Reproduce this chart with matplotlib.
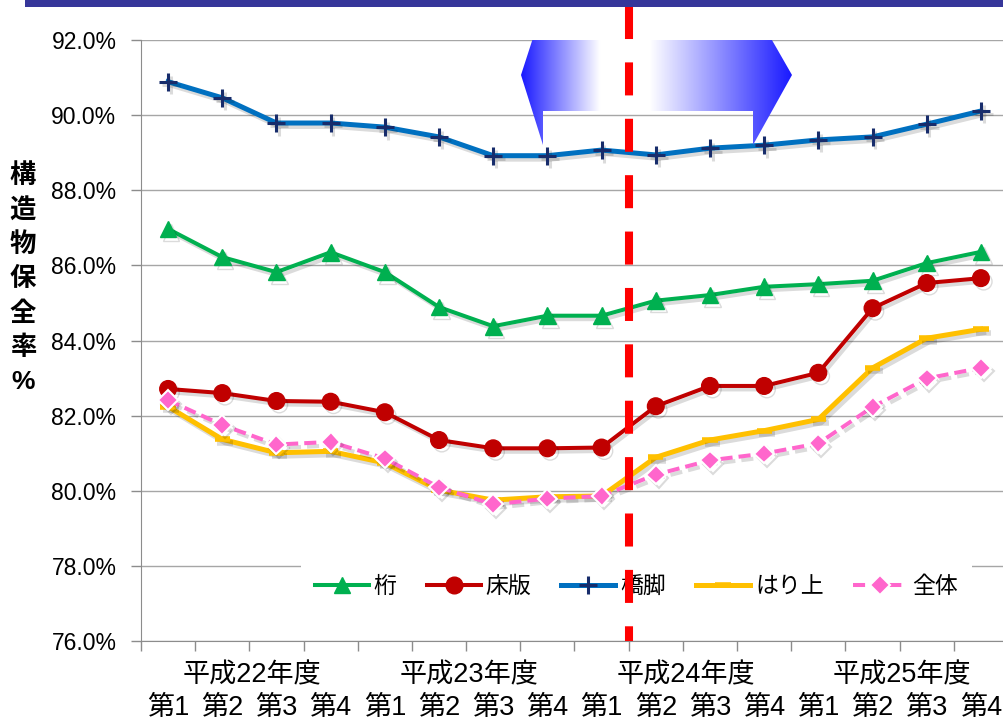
import numpy as np
import matplotlib.pyplot as plt
import matplotlib.patheffects as pe
import matplotlib.transforms as mtransforms
from matplotlib.patches import Polygon, Rectangle

plt.rcParams['font.family'] = ['Liberation Sans', 'Noto Sans CJK JP', 'DejaVu Sans']

quarters = ['第1', '第2', '第3', '第4'] * 4
years = ['平成22年度', '平成23年度', '平成24年度', '平成25年度']
ylabel = '構造物保全率%'

# 保全率 (%) per quarter
keta = [86.97, 86.22, 85.82, 86.35, 85.82, 84.89, 84.38, 84.66,
        84.66, 85.06, 85.21, 85.43, 85.50, 85.59, 86.06, 86.36]
shoban = [82.71, 82.60, 82.39, 82.37, 82.09, 81.35, 81.13, 81.13,
          81.15, 82.25, 82.79, 82.79, 83.14, 84.86, 85.53, 85.66]
kyokyaku = [90.89, 90.46, 89.79, 89.79, 89.68, 89.42, 88.92, 88.92,
            89.07, 88.94, 89.12, 89.20, 89.34, 89.42, 89.76, 90.11]
hariue = [82.24, 81.37, 81.01, 81.05, 80.74, 80.02, 79.75, 79.84,
          79.86, 80.89, 81.35, 81.60, 81.90, 83.27, 84.06, 84.30]
zentai = [82.41, 81.75, 81.23, 81.30, 80.86, 80.09, 79.64, 79.79,
          79.86, 80.43, 80.81, 80.99, 81.26, 82.23, 82.99, 83.27]

W, H = 1004, 725
fig = plt.figure(figsize=(W / 100, H / 100), dpi=100)
ax = fig.add_axes([141 / W, 1 - 641 / H, 867 / W, 601 / H])

x = np.arange(len(quarters))
shadow = [pe.SimpleLineShadow(offset=(2, -2.5), shadow_color='k', alpha=0.14), pe.Normal()]

ax.plot(x, keta, color='#00B050', lw=2.9, marker='^', ms=12, label='桁', path_effects=shadow)
ax.plot(x, shoban, color='#C00000', lw=2.9, marker='o', ms=12, label='床版', path_effects=shadow)
ax.plot(x, kyokyaku, color='#0070C0', lw=3.6, marker='+', ms=13, mew=2.2, mec='#172C6B',
        label='橋脚', path_effects=shadow)
ax.plot(x, hariue, color='#FFC000', lw=3.6, marker='_', ms=11, mew=4, label='はり上',
        path_effects=shadow)
ax.plot(x, zentai, color='#FF66CC', lw=2.9, dashes=(3, 1.5), marker='D', ms=10,
        mec='white', mew=1.5, label='全体', path_effects=shadow)

# 区切り線 (平成24年度 第1/第2 の間)
ax.plot([8.5, 8.5], [1.0566, 0], transform=ax.get_xaxis_transform(), color='#FF0000',
        lw=5.8, dashes=(4.1, 2.9), solid_capstyle='butt', dash_capstyle='butt',
        clip_on=False, zorder=10)

# 両矢印 (グラデーション)
px = mtransforms.Affine2D().scale(1 / W, -1 / H).translate(0, 1) + fig.transFigure
arrow_pts = [(521, 75), (543, 7), (543, 40), (753, 40), (753, 7), (792, 75),
             (753, 145), (753, 111), (543, 111), (543, 145)]
arrow = Polygon(arrow_pts, closed=True, facecolor='none', edgecolor='none',
                transform=px, clip_on=False)
ax.add_patch(arrow)
gx = np.linspace(521, 792, 300)
blue = np.array([0.1, 0.1, 1.0])
white = np.array([1.0, 1.0, 1.0])
stops = [521, 600, 650, 792]
grad = np.stack([np.interp(gx, stops, [blue[c], white[c], white[c], blue[c]]) for c in range(3)],
                axis=-1)[None, :, :]
im = ax.imshow(grad, extent=(521, 792, 145, 7), transform=px, aspect='auto',
               interpolation='bilinear', zorder=9)
im.set_clip_path(arrow)
im.set_clip_box(None)

ax.set_xlim(-0.5, len(quarters) - 0.5)
ax.set_ylim(76, 92)
ax.set_yticks(np.arange(76, 92.1, 2))
ax.set_yticklabels([f'{v:.1f}%' for v in np.arange(76, 92.1, 2)], fontsize=16.5)
ax.set_xticks(np.arange(-0.5, len(quarters), 1))
ax.set_xticklabels([])
ax.tick_params(axis='both', direction='out', length=7.2, width=1, color='#8C8C8C')
ax.tick_params(axis='y', pad=10.5)
ax.grid(axis='y', color='#A6A6A6', lw=1)
ax.set_axisbelow(True)
for s in ['top', 'right']:
    ax.spines[s].set_visible(False)
for s in ['left', 'bottom']:
    ax.spines[s].set_color('#8C8C8C')

for i, q in enumerate(quarters):
    ax.text(i, -0.1115, q, transform=ax.get_xaxis_transform(), ha='center', va='center',
            fontsize=19.5)
for k, yr in enumerate(years):
    ax.text(4 * k + 1.55, -0.058, yr, transform=ax.get_xaxis_transform(), ha='center',
            va='center', fontsize=19.5)

for i, ch in enumerate(ylabel):
    fig.text(23 / W, 1 - (176 + i * 34.4) / H, ch, ha='center', va='center',
             fontsize=19, fontweight='bold')

leg = ax.legend(loc='center', bbox_to_anchor=(0.5715, 0.09), ncol=5, fontsize=16.5,
                frameon=True, facecolor='white', edgecolor='none', framealpha=1,
                fancybox=False, handlelength=2.36, handletextpad=0.22, columnspacing=1.3,
                borderpad=0.6)
for ln in leg.get_lines():
    ln.set_path_effects([])

# 上部の帯
fig.patches.append(Rectangle((25 / W, 1 - 7 / H), 1 - 25 / W, 7 / H, transform=fig.transFigure,
                             facecolor='#36369A', edgecolor='none', zorder=20))

fig.savefig('out.png', dpi=100)
